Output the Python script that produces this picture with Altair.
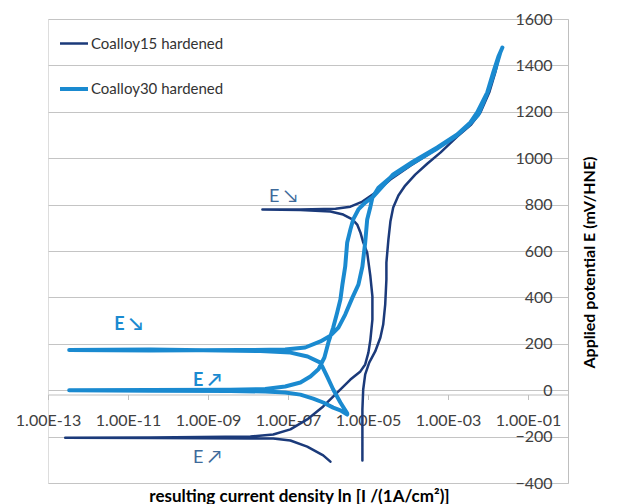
import altair as alt
import pandas as pd

series_names = ["Coalloy15 hardened", "Coalloy30 hardened"]
series_colors = ["#1B3A7A", "#1A8AD0"]
series_widths = [2.5, 4]

# Coalloy15 hardened: log10 of current density (A/cm2) and potential (mV), in sweep order
c15_log_i = [-5.14, -5.14, -5.14, -5.12, -5.07, -4.97, -4.82, -4.69, -4.62, -4.57,
             -4.54, -4.54, -4.49, -4.44, -4.37, -4.24, -4.07, -3.82, -3.52, -3.19,
             -2.77, -2.42, -2.19, -1.97, -1.82, -1.69, -1.79, -1.97, -2.22, -2.49,
             -2.82, -3.31, -3.94, -4.44, -4.82, -5.14, -5.44, -5.81, -6.69, -7.64,
             -6.69, -5.94, -5.62, -5.39, -5.27, -5.19, -5.12, -5.02, -4.99, -4.94,
             -4.89, -4.89, -4.94, -4.99, -5.07, -5.19, -5.44, -5.77, -6.12, -6.52,
             -6.94, -7.37, -7.94, -10.44, -12.57, -10.44, -7.94, -7.37, -6.94, -6.52,
             -6.12, -5.94]
c15_mv = [-303, -170, -83, 3, 68, 119, 167, 227, 283, 369,
          477, 550, 649, 727, 787, 839, 882, 929, 976, 1024,
          1093, 1145, 1197, 1283, 1369, 1460, 1391, 1297, 1197, 1141,
          1093, 1037, 968, 908, 851, 813, 791, 782, 779, 779,
          777, 770, 757, 736, 714, 680, 637, 593, 554, 490,
          404, 304, 218, 162, 111, 81, 46, -10, -70, -126,
          -169, -191, -200, -204, -205, -206, -208, -208, -217, -243,
          -281, -308]

# Coalloy30 hardened
c30_log_i = [-5.52, -5.69, -5.87, -6.12, -6.37, -6.69, -7.07, -7.57, -8.44, -10.44,
             -12.47, -10.44, -8.44, -7.57, -7.07, -6.69, -6.44, -6.24, -6.09, -5.99,
             -5.87, -5.77, -5.69, -5.64, -5.57, -5.52, -5.44, -5.37, -5.24, -5.07,
             -4.87, -4.37, -3.87, -3.27, -2.77, -2.44, -2.27, -2.02, -1.87, -1.74,
             -1.64, -1.69, -1.82, -2.00, -2.24, -2.49, -2.82, -3.31, -3.94, -4.44,
             -4.74, -4.89, -4.94, -5.02, -5.07, -5.14, -5.24, -5.39, -5.57, -5.74,
             -5.94, -6.19, -6.57, -7.07, -8.19, -10.44, -12.47, -10.44, -7.69, -6.94,
             -6.51, -6.19, -6.02, -5.87, -5.69, -5.52]
c30_mv = [-105, -87, -75, -53, -36, -19, -10, -6, -3, -2,
          0, 1, 2, 5, 16, 33, 59, 90, 141, 206,
          270, 335, 391, 455, 533, 637, 693, 736, 779, 809,
          834, 930, 986, 1046, 1102, 1154, 1197, 1283, 1369, 1438,
          1477, 1457, 1382, 1288, 1188, 1141, 1093, 1037, 973, 917,
          873, 830, 791, 736, 637, 533, 455, 399, 326, 270,
          235, 210, 184, 175, 173, 171, 173, 175, 169, 162,
          145, 119, 59, 3, -53, -100]

# sweep direction annotations
ann_text = ["E ↘", "E ↗", "E ↘", "E ↗"]
ann_log_i = [-7.12, -9.02, -10.99, -9.02]
ann_mv = [831, -294, 279, 38]
ann_group = ["c15", "c15", "c30", "c30"]

# axis ticks
x_tick_exp = [-13, -11, -9, -7, -5, -3, -1]
x_tick_labels = ["1.00E-13", "1.00E-11", "1.00E-09", "1.00E-07", "1.00E-05", "1.00E-03", "1.00E-01"]
y_ticks = [-400, -200, 0, 200, 400, 600, 800, 1000, 1200, 1400, 1600]

rows = []
for name, logs, mvs in [(series_names[0], c15_log_i, c15_mv), (series_names[1], c30_log_i, c30_mv)]:
    for k, (l, m) in enumerate(zip(logs, mvs)):
        rows.append({"series": name, "order": k, "current": 10 ** l, "mv": m})
df = pd.DataFrame(rows)

ann_df = pd.DataFrame({"text": ann_text, "current": [10 ** v for v in ann_log_i],
                       "mv": ann_mv, "group": ann_group})

FONT = "Lato"
W, H = 520, 464

x_scale = alt.Scale(type="log", domain=[1e-13, 1], nice=False)
y_scale = alt.Scale(domain=[-400, 1600], nice=False, zero=False)

label_expr = "[" + ",".join(f"'{t}'" for t in x_tick_labels) + "][round((log(datum.value)/LN10+13)/2)]"

x_axis = alt.Axis(
    values=[10 ** e for e in x_tick_exp], labelExpr=label_expr, grid=False,
    offset=-88.5, domainColor="#BFBFBF", tickColor="#BFBFBF", tickSize=5,
    labelFont=FONT, labelFontSize=16, labelColor="#404040", labelPadding=13,
    labelFlush=False, labelOverlap=False,
    title="resulting current density ln [I /(1A/cm²)]", titleFont=FONT,
    titleFontSize=17, titleFontWeight="bold", titleColor="#000000",
    titleX=251, titleY=107, titleBaseline="alphabetic", titleAlign="center",
)
y_axis = alt.Axis(
    orient="left", offset=-W, values=y_ticks, format="d", grid=True,
    gridColor="#C4C4C4", domain=True, domainColor="#BFBFBF", ticks=False,
    labelPadding=16, labelFont=FONT, labelFontSize=16, labelColor="#404040",
    title="Applied potential E (mV/HNE)", titleFont=FONT, titleFontSize=16,
    titleFontWeight="bold", titleColor="#000000", titleAngle=270,
    titleX=21, titleY=243, titleAlign="center", titleBaseline="middle",
)

legend = alt.Legend(
    title=None, orient="none", legendX=10, legendY=9, symbolType="stroke",
    symbolSize=784, labelFont=FONT, labelFontSize=15, labelColor="#333333",
    rowPadding=21, labelOffset=1, padding=0,
)

lines = alt.Chart(df).mark_line(strokeCap="round", strokeJoin="round").encode(
    x=alt.X("current:Q", scale=x_scale, axis=x_axis),
    y=alt.Y("mv:Q", scale=y_scale, axis=y_axis),
    color=alt.Color("series:N", scale=alt.Scale(domain=series_names, range=series_colors), legend=legend),
    strokeWidth=alt.StrokeWidth("series:N", scale=alt.Scale(domain=series_names, range=series_widths), legend=legend),
    order="order:Q",
)

ann15 = alt.Chart(ann_df).transform_filter("datum.group == 'c15'").mark_text(
    font=FONT, fontSize=18, color="#3E6A9A", align="center", baseline="middle"
).encode(x="current:Q", y="mv:Q", text="text:N")
ann30 = alt.Chart(ann_df).transform_filter("datum.group == 'c30'").mark_text(
    font=FONT, fontSize=18, fontWeight="bold", color="#1A8AD0", align="center", baseline="middle"
).encode(x="current:Q", y="mv:Q", text="text:N")

chart = alt.layer(lines, ann15, ann30).properties(
    width=W, height=H,
    autosize=alt.AutoSizeParams(type="none"),
    padding={"left": 40, "top": 11, "right": 50, "bottom": 21},
).configure_view(stroke=None).configure(background="white")

chart.save("out.html", embed_options={"renderer": "svg", "actions": False})
